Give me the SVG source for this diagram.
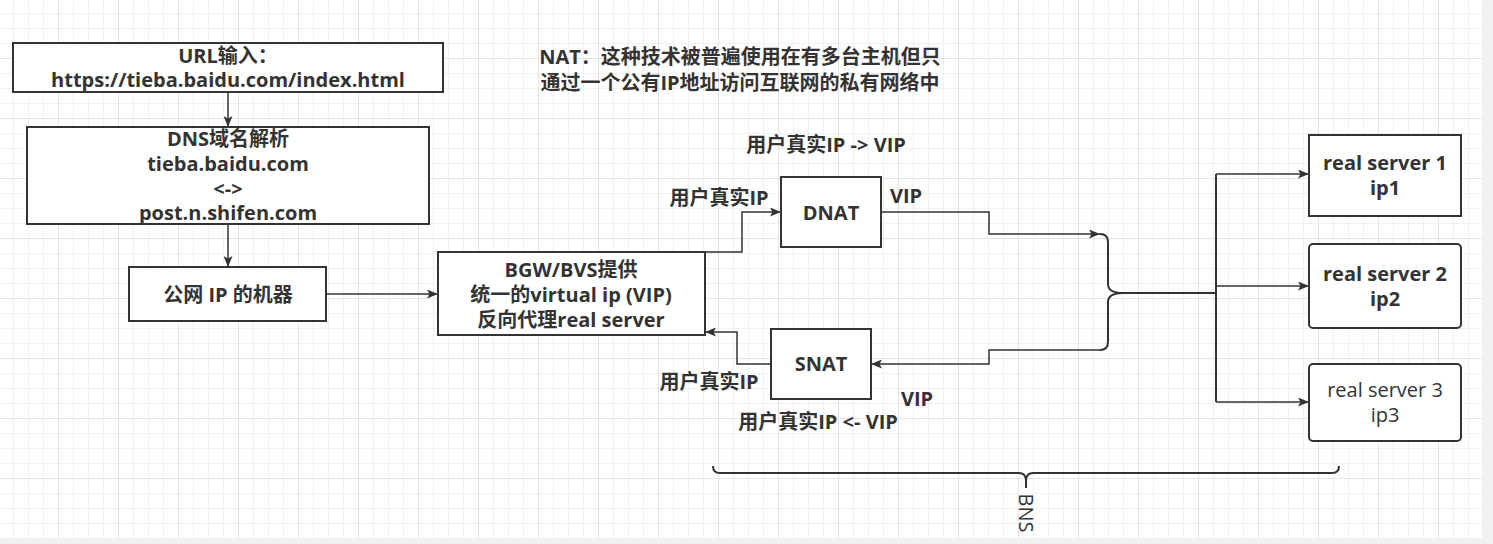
<svg xmlns="http://www.w3.org/2000/svg" width="1493" height="544" viewBox="0 0 1493 544">
<style>
.box{fill:#fff;stroke:#333;stroke-width:2}
.t{font-family:"Open Sans","Noto Sans CJK SC",sans-serif;font-size:20px;fill:#333;text-anchor:middle}
.b{font-weight:bold}
.c{fill:none;stroke:#333;stroke-width:1.5}
.br{fill:none;stroke:#333;stroke-width:2}
</style>
<defs>
<pattern id="grid" patternUnits="userSpaceOnUse" x="58" y="58" width="60" height="60">
<path d="M15.5,0V60M30.5,0V60M45.5,0V60M0,15.5H60M0,30.5H60M0,45.5H60" stroke="#f0f0f0" stroke-width="1" fill="none"/>
<path d="M0.5,0V60M0,0.5H60" stroke="#e4e4e4" stroke-width="1" fill="none"/>
</pattern>
<marker id="arr" markerUnits="userSpaceOnUse" viewBox="0 0 11 9" refX="11" refY="4.5" markerWidth="11" markerHeight="9" orient="auto">
<path d="M0,0L11,4.5L0,9L2.5,4.5Z" fill="#333"/>
</marker>
</defs>
<rect x="0" y="0" width="1493" height="544" fill="#fff"/>
<rect x="0" y="0" width="1482" height="538" fill="url(#grid)"/>
<rect x="1482" y="0" width="11" height="544" fill="#f1f1f1"/>
<rect x="0" y="538" width="1493" height="6" fill="#f1f1f1"/>

<g id="connectors">
<path class="c" d="M228,92L228,127" marker-end="url(#arr)"/>
<path class="c" d="M228,224L228,267" marker-end="url(#arr)"/>
<path class="c" d="M326,294L438,294" marker-end="url(#arr)"/>
<path class="c" d="M705,252L742,252L742,212L781,212" marker-end="url(#arr)"/>
<path class="c" d="M881,212L989,212L989,234L1100,234" marker-end="url(#arr)"/>
<path class="c" d="M1100,350L989,350L989,364L871,364" marker-end="url(#arr)"/>
<path class="c" d="M771,364L737,364L737,332L705,332" marker-end="url(#arr)"/>
<path class="br" d="M1123,293L1216,293"/>
<path class="br" d="M1216,174L1216,402"/>
<path class="c" d="M1216,174L1309,174" marker-end="url(#arr)"/>
<path class="c" d="M1216,286L1309,286" marker-end="url(#arr)"/>
<path class="c" d="M1216,402L1309,402" marker-end="url(#arr)"/>
</g>

<g id="brace-mid">
<path class="br" d="M1100,234Q1108,234 1108,242L1108,284Q1108,293 1123,293Q1108,293 1108,302L1108,342Q1108,350 1100,350"/>
</g>

<g id="brace-bns">
<path class="br" d="M713,466Q713,473 720,473L1019,473Q1026,473 1026,481L1026,488M1026,481Q1026,473 1033,473L1332,473Q1339,473 1339,466"/>
<text class="t" transform="translate(1019,513) rotate(90)">BNS</text>
</g>

<g id="url">
<rect class="box" x="13" y="43" width="430" height="49"/>
<text class="t b" x="228" y="63">URL输入：</text>
<text class="t b" x="228" y="87">https://tieba.baidu.com/index.html</text>
</g>

<g id="dns">
<rect class="box" x="27" y="127" width="402" height="97"/>
<text class="t b" x="228" y="146">DNS域名解析</text>
<text class="t b" x="228" y="171">tieba.baidu.com</text>
<text class="t b" x="228" y="196">&lt;-&gt;</text>
<text class="t b" x="228" y="220">post.n.shifen.com</text>
</g>

<g id="public-ip">
<rect class="box" x="129" y="267" width="197" height="54"/>
<text class="t b" x="228" y="302">公网 IP 的机器</text>
</g>

<g id="bgw">
<rect class="box" x="438" y="252" width="267" height="83"/>
<text class="t b" x="571" y="277">BGW/BVS提供</text>
<text class="t b" x="571" y="302">统一的virtual ip (VIP)</text>
<text class="t b" x="571" y="327">反向代理real server</text>
</g>

<g id="dnat">
<rect class="box" x="781" y="177" width="100" height="70"/>
<text class="t b" x="831" y="220">DNAT</text>
</g>

<g id="snat">
<rect class="box" x="771" y="329" width="100" height="70"/>
<text class="t b" x="821" y="371">SNAT</text>
</g>

<g id="rs1">
<rect class="box" x="1309" y="135" width="152" height="81"/>
<text class="t b" x="1385" y="170">real server 1</text>
<text class="t b" x="1385" y="195">ip1</text>
</g>

<g id="rs2">
<rect class="box" x="1309" y="244" width="152" height="84" rx="4"/>
<text class="t b" x="1385" y="281">real server 2</text>
<text class="t b" x="1385" y="306">ip2</text>
</g>

<g id="rs3">
<rect class="box" x="1309" y="364" width="152" height="77" rx="4"/>
<text class="t" x="1385" y="397">real server 3</text>
<text class="t" x="1385" y="422">ip3</text>
</g>

<g id="labels">
<text class="t b" x="740" y="64">NAT：这种技术被普遍使用在有多台主机但只</text>
<text class="t b" x="740" y="90">通过一个公有IP地址访问互联网的私有网络中</text>
<text class="t b" x="826" y="152">用户真实IP -&gt; VIP</text>
<text class="t b" x="719" y="205">用户真实IP</text>
<text class="t b" x="906" y="203">VIP</text>
<text class="t b" x="709" y="389">用户真实IP</text>
<text class="t b" x="917" y="406">VIP</text>
<text class="t b" x="818" y="429">用户真实IP &lt;- VIP</text>
</g>
</svg>
